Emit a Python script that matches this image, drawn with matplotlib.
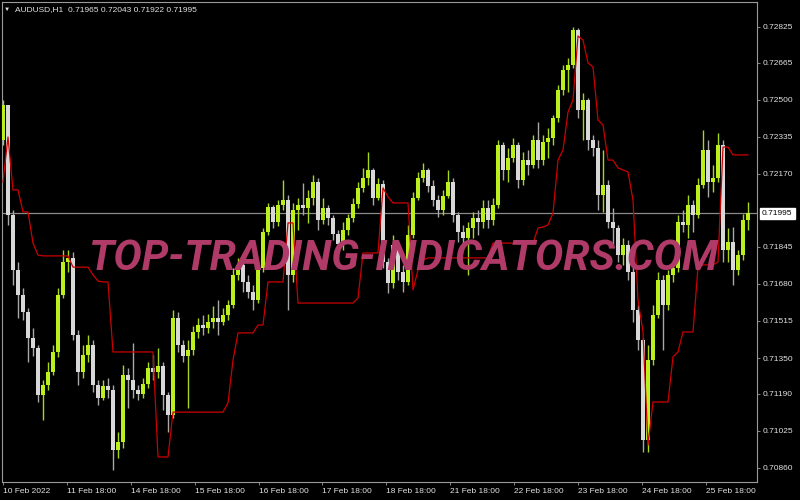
import matplotlib
matplotlib.use('Agg')
import matplotlib.pyplot as plt
import numpy as np

plt.rcParams['font.family'] = ['Liberation Sans', 'DejaVu Sans']

# AUDUSD H1 - hourly bars (close / high / low), open = previous close
first_open = 0.72322
closes = [
    0.72477, 0.71987, 0.71742, 0.71631, 0.71555, 0.71439, 0.71395, 0.71185, 0.71230, 0.71288,
    0.71377, 0.71631, 0.71778, 0.71796, 0.71453, 0.71288, 0.71363, 0.71408, 0.71230, 0.71172,
    0.71225, 0.71208, 0.70940, 0.70976, 0.71274, 0.71252, 0.71208, 0.71190, 0.71234, 0.71306,
    0.71288, 0.71314, 0.71185, 0.71096, 0.71528, 0.71408, 0.71359, 0.71386, 0.71466, 0.71497,
    0.71484, 0.71511, 0.71528, 0.71511, 0.71542, 0.71586, 0.71720, 0.71765, 0.71689, 0.71644,
    0.71609, 0.71751, 0.71912, 0.72023, 0.71956, 0.72032, 0.72054, 0.71720, 0.72010, 0.72032,
    0.72019, 0.72063, 0.72134, 0.71965, 0.72019, 0.71974, 0.71903, 0.71858, 0.71920, 0.71974,
    0.72036, 0.72108, 0.72152, 0.72188, 0.72063, 0.72125, 0.71778, 0.71684, 0.71854, 0.71733,
    0.71689, 0.71898, 0.72063, 0.72152, 0.72188, 0.72117, 0.72054, 0.72010, 0.72072, 0.72134,
    0.71987, 0.71912, 0.71885, 0.71929, 0.71974, 0.71956, 0.72019, 0.71965, 0.72032, 0.72299,
    0.72188, 0.72241, 0.72299, 0.72143, 0.72232, 0.72210, 0.72322, 0.72232, 0.72313, 0.72330,
    0.72420, 0.72544, 0.72633, 0.72656, 0.72812, 0.72455, 0.72500, 0.72322, 0.72286, 0.72076,
    0.72121, 0.71956, 0.71929, 0.71809, 0.71854, 0.71733, 0.71564, 0.71430, 0.70985, 0.71341,
    0.71542, 0.71698, 0.71586, 0.71720, 0.71751, 0.71956, 0.71943, 0.72032, 0.71987, 0.72121,
    0.72277, 0.72134, 0.72152, 0.72299, 0.71831, 0.71867, 0.71742, 0.71809, 0.71965, 0.71995,
]
highs = [
    0.72500, 0.72477, 0.72010, 0.71778, 0.71662, 0.71573, 0.71484, 0.71408, 0.71252, 0.71332,
    0.71408, 0.71662, 0.71831, 0.71831, 0.71822, 0.71475, 0.71408, 0.71453, 0.71430, 0.71252,
    0.71252, 0.71261, 0.71230, 0.71020, 0.71319, 0.71306, 0.71417, 0.71230, 0.71261, 0.71332,
    0.71363, 0.71395, 0.71332, 0.71199, 0.71564, 0.71555, 0.71430, 0.71430, 0.71493, 0.71528,
    0.71542, 0.71546, 0.71582, 0.71609, 0.71573, 0.71609, 0.71751, 0.71796, 0.71787, 0.71720,
    0.71675, 0.71778, 0.71929, 0.72041, 0.72032, 0.72054, 0.72143, 0.72076, 0.72041, 0.72063,
    0.72130, 0.72099, 0.72166, 0.72152, 0.72063, 0.72032, 0.71987, 0.71920, 0.71956, 0.71992,
    0.72063, 0.72134, 0.72197, 0.72268, 0.72197, 0.72152, 0.72143, 0.71796, 0.71898, 0.71867,
    0.71765, 0.71943, 0.72090, 0.72179, 0.72219, 0.72197, 0.72143, 0.72076, 0.72099, 0.72188,
    0.72152, 0.72001, 0.71943, 0.71956, 0.72001, 0.72010, 0.72054, 0.72054, 0.72063, 0.72322,
    0.72313, 0.72286, 0.72330, 0.72313, 0.72268, 0.72277, 0.72344, 0.72402, 0.72344, 0.72375,
    0.72433, 0.72567, 0.72656, 0.72687, 0.72825, 0.72821, 0.72531, 0.72509, 0.72344, 0.72322,
    0.72277, 0.72143, 0.72019, 0.71943, 0.71885, 0.71876, 0.71765, 0.71586, 0.71439, 0.71408,
    0.71586, 0.71733, 0.71720, 0.71742, 0.71787, 0.71987, 0.72010, 0.72076, 0.72054, 0.72152,
    0.72366, 0.72322, 0.72210, 0.72353, 0.72322, 0.71929, 0.71934, 0.71831, 0.71992, 0.72043,
]
lows = [
    0.72299, 0.71943, 0.71675, 0.71528, 0.71519, 0.71332, 0.71359, 0.71154, 0.71074, 0.71208,
    0.71274, 0.71355, 0.71617, 0.71733, 0.71430, 0.71230, 0.71261, 0.71332, 0.71199, 0.71141,
    0.71163, 0.71172, 0.70851, 0.70905, 0.70949, 0.71127, 0.71172, 0.71163, 0.71172, 0.71216,
    0.71252, 0.71261, 0.71118, 0.71020, 0.71083, 0.71377, 0.71332, 0.71127, 0.71363, 0.71439,
    0.71453, 0.71462, 0.71484, 0.71453, 0.71497, 0.71519, 0.71573, 0.71698, 0.71644, 0.71617,
    0.71564, 0.71595, 0.71733, 0.71898, 0.71929, 0.71938, 0.72010, 0.71564, 0.71689, 0.71920,
    0.71987, 0.71952, 0.72032, 0.71920, 0.71947, 0.71943, 0.71876, 0.71822, 0.71831, 0.71898,
    0.71956, 0.72019, 0.72090, 0.72121, 0.72032, 0.72054, 0.71751, 0.71640, 0.71662, 0.71698,
    0.71644, 0.71675, 0.71885, 0.72054, 0.72134, 0.72090, 0.72027, 0.71978, 0.71987, 0.72063,
    0.71956, 0.71867, 0.71854, 0.71720, 0.71885, 0.71898, 0.71929, 0.71929, 0.71943, 0.72019,
    0.72143, 0.72134, 0.72223, 0.72108, 0.72121, 0.72166, 0.72197, 0.72197, 0.72210, 0.72241,
    0.72299, 0.72402, 0.72522, 0.72535, 0.72642, 0.72420, 0.72322, 0.72277, 0.72250, 0.72010,
    0.72001, 0.71929, 0.71854, 0.71778, 0.71765, 0.71698, 0.71511, 0.71386, 0.70931, 0.70931,
    0.71319, 0.71528, 0.71386, 0.71564, 0.71689, 0.71733, 0.71912, 0.71885, 0.71912, 0.71974,
    0.72108, 0.72068, 0.72090, 0.72134, 0.71778, 0.71778, 0.71675, 0.71720, 0.71787, 0.71922,
]
# red trailing stop line
stop_line = [
    0.72134, 0.72335, 0.72099, 0.72099, 0.72001, 0.72001, 0.71862, 0.71809, 0.71805, 0.71805,
    0.71805, 0.71805, 0.71805, 0.71805, 0.71755, 0.71755, 0.71755, 0.71755, 0.71720, 0.71693,
    0.71689, 0.71689, 0.71377, 0.71377, 0.71377, 0.71377, 0.71377, 0.71377, 0.71377, 0.71377,
    0.71377, 0.70909, 0.70909, 0.70909, 0.71109, 0.71109, 0.71109, 0.71109, 0.71109, 0.71109,
    0.71109, 0.71109, 0.71109, 0.71109, 0.71109, 0.71150, 0.71341, 0.71462, 0.71462, 0.71462,
    0.71462, 0.71497, 0.71497, 0.71689, 0.71689, 0.71689, 0.71689, 0.71952, 0.71952, 0.71595,
    0.71595, 0.71595, 0.71595, 0.71595, 0.71595, 0.71595, 0.71595, 0.71595, 0.71595, 0.71595,
    0.71595, 0.71617, 0.71818, 0.71818, 0.71818, 0.71818, 0.72108, 0.72068, 0.72041, 0.72041,
    0.72041, 0.72041, 0.71653, 0.71742, 0.71787, 0.71796, 0.71796, 0.71796, 0.71796, 0.71796,
    0.71796, 0.71796, 0.71796, 0.71796, 0.71796, 0.71796, 0.71796, 0.71796, 0.71862, 0.71862,
    0.71862, 0.71862, 0.71862, 0.71862, 0.71862, 0.71862, 0.71862, 0.71929, 0.71934, 0.71943,
    0.71996, 0.72232, 0.72277, 0.72446, 0.72500, 0.72785, 0.72767, 0.72665, 0.72647, 0.72411,
    0.72388, 0.72232, 0.72232, 0.72197, 0.72188, 0.72179, 0.72054, 0.71609, 0.71466, 0.70962,
    0.71154, 0.71154, 0.71154, 0.71154, 0.71355, 0.71377, 0.71466, 0.71466, 0.71466, 0.71755,
    0.71765, 0.71765, 0.71765, 0.71778, 0.72290, 0.72290, 0.72255, 0.72255, 0.72255, 0.72255,
]

price_ticks = [0.72825, 0.72665, 0.72500, 0.72335, 0.72170, 0.71845, 0.71680,
               0.71515, 0.71350, 0.71190, 0.71025, 0.70860]
time_labels = ['10 Feb 2022', '11 Feb 18:00', '14 Feb 18:00', '15 Feb 18:00',
               '16 Feb 18:00', '17 Feb 18:00', '18 Feb 18:00', '21 Feb 18:00',
               '22 Feb 18:00', '23 Feb 18:00', '24 Feb 18:00', '25 Feb 18:00']
time_label_bars = [0, 12.8, 25.6, 38.4, 51.2, 63.8, 76.6, 89.4, 102.2, 115, 127.8, 140.6]

symbol = 'AUDUSD,H1'
watermark = 'TOP-TRADING-INDICATORS.COM'

closes = np.array(closes)
highs = np.array(highs)
lows = np.array(lows)
opens = np.concatenate(([first_open], closes[:-1]))
x = np.arange(len(closes))
up = closes >= opens

UP_COL = '#bcf01c'
UP_WICK = '#a6d81a'
DN_COL = '#d8d8d8'
DN_WICK = '#a8a8a8'
TXT = '#e2e2e2'
GRID = '#9a9a9a'

fig = plt.figure(figsize=(8, 5), dpi=100, facecolor='black')
ax = fig.add_axes([2/800, 18/500, 755/800, 480/500])
ax.set_facecolor('black')

# current price line
ax.axhline(closes[-1], color='#8a8a8a', lw=0.9, zorder=1)

# bars
ax.vlines(x[up], lows[up], highs[up], colors=UP_WICK, lw=1.0, zorder=2)
ax.vlines(x[~up], lows[~up], highs[~up], colors=DN_WICK, lw=1.0, zorder=2)
body_lo = np.minimum(opens, closes)
body_h = np.maximum(np.abs(closes - opens), 0.00004)
ax.bar(x[up], body_h[up], bottom=body_lo[up], width=0.62, color=UP_COL, lw=0, zorder=3)
ax.bar(x[~up], body_h[~up], bottom=body_lo[~up], width=0.62, color=DN_COL, lw=0, zorder=3)

# stop line
ax.plot(x, stop_line, color='#cc0000', lw=0.9, zorder=4)

ax.set_xlim(-0.2, 150.8)
ax.set_ylim(0.707975, 0.729364)

ax.yaxis.tick_right()
ax.set_yticks(price_ticks)
ax.set_yticklabels([f'{p:.5f}' for p in price_ticks])
ax.set_xticks(time_label_bars)
ax.set_xticklabels(time_labels)
for lbl in ax.get_xticklabels():
    lbl.set_ha('left')
ax.tick_params(axis='both', colors=GRID, labelcolor=TXT, labelsize=6,
               length=2.5, width=0.6, pad=1.5)
for s in ax.spines.values():
    s.set_color(GRID)
    s.set_linewidth(0.8)

# current price tag
ax.annotate(f'{closes[-1]:.5f}', xy=(1, closes[-1]), xycoords=('axes fraction', 'data'),
            xytext=(3.6, 0), textcoords='offset points', ha='left', va='center',
            fontsize=6, color='black', annotation_clip=False,
            bbox=dict(boxstyle='square,pad=0.25', fc='white', ec='white'))

# header
fig.text(4/800, 1 - 9/500, '▼', fontsize=4.5, color=TXT, va='center')
header = f'{symbol}  {opens[-1]:.5f} {highs[-1]:.5f} {lows[-1]:.5f} {closes[-1]:.5f}'
fig.text(15/800, 1 - 9.5/500, header, fontsize=6, color=TXT, va='center')

# watermark, fitted to its width
wm = fig.text(88/800, 1 - 270/500, watermark, fontsize=30, fontweight='bold',
              style='italic', family=['Roboto', 'DejaVu Sans'], color='#b03b68',
              va='baseline', ha='left', zorder=10)
fig.canvas.draw()
w = wm.get_window_extent().width
wm.set_fontsize(30 * 629 / w)

fig.savefig('out.png', dpi=100, facecolor='black')
